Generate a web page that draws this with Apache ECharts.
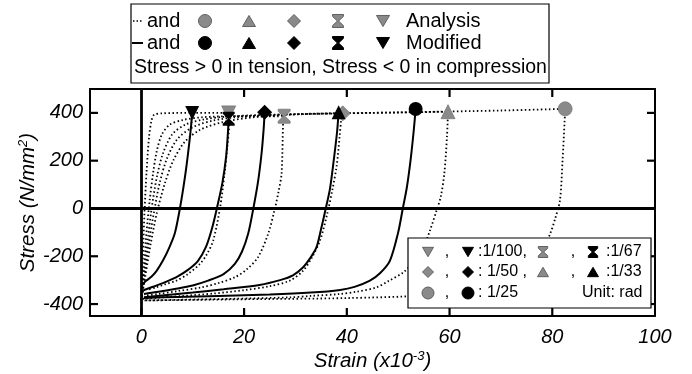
<!DOCTYPE html>
<html><head><meta charset="utf-8">
<script src="https://cdn.jsdelivr.net/npm/echarts@6/dist/echarts.min.js"></script>
<style>html,body{margin:0;padding:0;background:#fff}#c{width:692px;height:374px}</style>
</head><body><div id="c"></div>
<script>
// ---------- axis ranges / ticks ----------
const xMin = -10, xMax = 100;
const yMin = -450, yMax = 500;
const xTickLabels = [0, 20, 40, 60, 80, 100];
const xTicksBottom = [0, 20, 40, 60, 80];
const xTicksTop = [20, 40, 60, 80];
const yTicks = [-400, -200, 0, 200, 400];

// ---------- Modified (solid) unloading curves ----------
const mod100Strain = [9.9, 9.7, 9.4, 8.8, 8.2, 7.5, 6.5, 5.3, 4.2, 3.0, 2.0, 0.8, 0.2];
const mod100Stress = [400, 350, 288, 180, 90, 0, -105, -170, -218, -260, -285, -305, -320];
const mod67Strain = [17.0, 16.8, 16.5, 15.8, 14.8, 13.8, 12.6, 11.0, 9.0, 7.0, 5.0, 3.0, 1.2, 0.2];
const mod67Stress = [375, 300, 217, 110, 10, -80, -160, -220, -258, -285, -305, -322, -336, -345];
const mod50Strain = [24.0, 23.8, 23.4, 22.7, 21.8, 20.8, 19.6, 18.2, 16.0, 13.0, 10.0, 6.5, 3.0, 0.5];
const mod50Stress = [403, 330, 230, 110, 0, -105, -180, -232, -275, -302, -322, -337, -350, -358];
const mod33Strain = [38.4, 38.1, 37.3, 36.7, 35.9, 35.0, 34.1, 32.8, 31.5, 29.5, 27.0, 23.0, 16.0, 10.0, 5.0, 0.5];
const mod33Stress = [403, 320, 175, 80, 0, -85, -162, -210, -246, -280, -300, -320, -338, -352, -362, -372];
const mod25Strain = [53.4, 53.0, 52.4, 51.7, 50.9, 50.0, 48.4, 46.5, 44.5, 41.5, 38.7, 33.0, 25.0, 15.0, 7.0, 0.5];
const mod25Stress = [416, 320, 200, 90, 0, -100, -218, -270, -302, -328, -341, -352, -360, -366, -370, -375];

// ---------- Analysis (dotted) unloading curves ----------
const an100Strain = [17.0, 17.1, 16.7, 16.2, 15.3, 14.0, 12.8, 11.4, 9.0, 6.8, 4.5, 2.9, 1.2];
const an100Stress = [400, 358, 250, 147, 0, -133, -190, -232, -275, -302, -318, -330, -340];
const an67Strain = [27.8, 27.6, 27.3, 26.7, 26.0, 24.7, 22.7, 20.5, 18.2, 15.0, 11.7, 7.0, 3.2, 0.6];
const an67Stress = [386, 358, 147, 70, 0, -105, -204, -255, -288, -312, -330, -346, -358, -365];
const an50Strain = [39.2, 38.9, 38.6, 38.0, 37.2, 36.2, 34.8, 33.2, 31.5, 28.9, 25.0, 20.0, 14.0, 8.0, 3.0, 0.3];
const an50Stress = [398, 370, 300, 175, 80, -21, -133, -205, -260, -302, -325, -342, -356, -366, -374, -378];
const an33Strain = [59.7, 59.5, 59.0, 58.3, 57.5, 56.2, 55.0, 53.2, 51.0, 48.0, 45.8, 42.0, 38.6, 33.0, 28.9, 18.0, 8.0, 0.3];
const an33Stress = [405, 300, 150, 50, -7, -91, -160, -220, -267, -305, -330, -348, -358, -366, -372, -378, -382, -385];
const an25Strain = [82.5, 82.4, 82.0, 81.5, 80.6, 79.6, 78.0, 76.0, 73.0, 69.0, 63.0, 55.0, 40.0, 20.0, 0.0];
const an25Stress = [417, 365, 200, 35, -40, -105, -180, -240, -290, -325, -350, -365, -375, -380, -385];

// ---------- Analysis (dotted) loading curves ----------
const ld100Strain = [0.0, 0.3, 0.6, 1.0, 1.5, 2.0, 2.5, 4.0, 10.0, 17.0];
const ld100Stress = [-380, -200, -20, 150, 300, 370, 392, 398, 400, 400];
const ld67Strain = [0.0, 0.5, 1.0, 1.6, 2.3, 3.0, 4.0, 5.5, 8.0, 12.0, 18.0, 27.8];
const ld67Stress = [-382, -250, -100, 30, 150, 240, 310, 350, 370, 382, 386, 386];
const ld50Strain = [0.0, 0.6, 1.3, 2.0, 3.0, 4.2, 6.0, 8.5, 12.0, 17.0, 25.0, 39.2];
const ld50Stress = [-383, -260, -120, 0, 130, 230, 310, 350, 372, 385, 392, 398];
const ld33Strain = [0.0, 0.7, 1.5, 2.5, 3.6, 5.0, 7.0, 10.0, 14.0, 20.0, 30.0, 45.0, 59.7];
const ld33Stress = [-384, -270, -140, -10, 110, 210, 290, 340, 368, 385, 395, 400, 405];
const ld25Strain = [0.0, 0.8, 1.8, 3.0, 4.5, 6.2, 8.5, 11.5, 16.0, 22.0, 32.0, 50.0, 70.0, 82.5];
const ld25Stress = [-385, -280, -150, -20, 100, 200, 280, 330, 362, 382, 395, 402, 410, 417];

// ---------- peak markers ----------
const amplitudes = ['1/25', '1/33', '1/50', '1/67', '1/100'];
const anPeakStrain = [82.5, 59.7, 39.2, 27.8, 17.0];
const anPeakStress = [417, 405, 398, 386, 400];
const modPeakStrain = [53.4, 38.4, 24.0, 17.0, 9.9];
const modPeakStress = [416, 403, 403, 375, 400];

const FONT = 'Liberation Sans, Arial, sans-serif';
const GRAY = '#8a8a8a';
const HOURGLASS = 'path://M0,0L12,0L12,2L6.7,7L12,12L12,14L0,14L0,12L5.3,7L0,2Z';
const peakSymbols = ['circle', 'triangle', 'diamond', HOURGLASS, 'triangle'];
const peakRotate = [0, 0, 0, 0, 180];
const peakSizes = [14, 14, 15, [12, 14], 14];

// grid geometry (pixels)
const GRID = { left: 90, right: 37, top: 89, bottom: 58 };
const W = 692, H = 374;
const gridW = W - GRID.left - GRID.right, gridH = H - GRID.top - GRID.bottom;
const TICK = 8;
const dxTick = TICK * (xMax - xMin) / gridW;
const dyTick = TICK * (yMax - yMin) / gridH;

function pts(s, t) { return s.map((v, i) => [v, t[i]]); }

const solidCurves = [[mod100Strain, mod100Stress], [mod67Strain, mod67Stress], [mod50Strain, mod50Stress], [mod33Strain, mod33Stress], [mod25Strain, mod25Stress]];
const dottedCurves = [[an100Strain, an100Stress], [an67Strain, an67Stress], [an50Strain, an50Stress], [an33Strain, an33Stress], [an25Strain, an25Stress],
  [ld100Strain, ld100Stress], [ld67Strain, ld67Stress], [ld50Strain, ld50Stress], [ld33Strain, ld33Stress], [ld25Strain, ld25Stress]];

// inward ticks on all four sides, as short line segments in data space
const tickSegs = [];
xTicksBottom.forEach(v => tickSegs.push([[v, yMin], [v, yMin + dyTick]]));
xTicksTop.forEach(v => tickSegs.push([[v, yMax], [v, yMax - dyTick]]));
yTicks.forEach(v => {
  tickSegs.push([[xMin, v], [xMin + dxTick, v]]);
  tickSegs.push([[xMax, v], [xMax - dxTick, v]]);
});

const series = [];
series.push({
  type: 'line', data: [], silent: true, z: 1,
  markLine: {
    silent: true, symbol: 'none', label: { show: false }, animation: false,
    lineStyle: { color: '#000', width: 2.8, type: 'solid' },
    data: [{ xAxis: 0 }, { yAxis: 0 }]
  }
});
tickSegs.forEach(seg => series.push({
  type: 'line', data: seg, silent: true, showSymbol: false, z: 4, clip: false,
  lineStyle: { color: '#000', width: 2.2, type: 'solid' }
}));
dottedCurves.forEach(c => series.push({
  type: 'line', data: pts(c[0], c[1]), showSymbol: false, smooth: 0.3, z: 2,
  lineStyle: { color: '#000', width: 1.8, type: [1.5, 2.5] }
}));
solidCurves.forEach(c => series.push({
  type: 'line', data: pts(c[0], c[1]), showSymbol: false, smooth: 0.3, z: 3,
  lineStyle: { color: '#000', width: 2 }
}));
series.push({
  type: 'scatter', z: 5,
  data: anPeakStrain.map((s, i) => ({
    value: [s, anPeakStress[i]], symbol: peakSymbols[i], symbolRotate: peakRotate[i], symbolSize: peakSizes[i]
  })),
  itemStyle: { color: GRAY, borderColor: '#777', borderWidth: 0.8, opacity: 1 }
});
series.push({
  type: 'scatter', z: 6,
  data: modPeakStrain.map((s, i) => ({
    value: [s, modPeakStress[i]], symbol: peakSymbols[i], symbolRotate: peakRotate[i], symbolSize: peakSizes[i]
  })),
  itemStyle: { color: '#000', opacity: 1 }
});

// ---------- legend graphics ----------
function sym(kind, cx, cy, size, fill, stroke) {
  const h = size / 2;
  const style = { fill: fill, stroke: stroke, lineWidth: 1 };
  if (kind === 'circle') return { type: 'circle', shape: { cx, cy, r: h }, style };
  let p;
  if (kind === 'tri') p = [[cx - h, cy + h * 0.85], [cx + h, cy + h * 0.85], [cx, cy - h * 0.85]];
  if (kind === 'itri') p = [[cx - h, cy - h * 0.85], [cx + h, cy - h * 0.85], [cx, cy + h * 0.85]];
  if (kind === 'dia') p = [[cx, cy - h], [cx + h, cy], [cx, cy + h], [cx - h, cy]];
  if (kind === 'hg') {
    const w = h * 0.85;
    p = [[cx - w, cy - h], [cx + w, cy - h], [cx + w, cy - h + 1.8], [cx + 0.6, cy], [cx + w, cy + h - 1.8], [cx + w, cy + h],
         [cx - w, cy + h], [cx - w, cy + h - 1.8], [cx - 0.6, cy], [cx - w, cy - h + 1.8]];
  }
  return { type: 'polygon', shape: { points: p }, style };
}
function txt(x, y, t, size, align) {
  return { type: 'text', x, y, style: { text: t, font: size + 'px ' + FONT, fill: '#000', align: align || 'left', verticalAlign: 'middle' } };
}
const g = [];
// top legend
g.push({ type: 'rect', shape: { x: 131, y: 4, width: 418, height: 79 }, style: { fill: '#fff', stroke: '#000', lineWidth: 1.2 } });
g.push({ type: 'line', shape: { x1: 133, y1: 21, x2: 143, y2: 21 }, style: { stroke: '#000', lineWidth: 1.5, lineDash: [1.5, 2] } });
g.push({ type: 'line', shape: { x1: 132, y1: 43, x2: 143, y2: 43 }, style: { stroke: '#000', lineWidth: 2 } });
g.push(txt(147, 21, 'and', 20)); g.push(txt(147, 43, 'and', 20));
const kinds = ['circle', 'tri', 'dia', 'hg', 'itri'];
const legX = [205, 249, 294, 338, 383];
kinds.forEach((k, i) => {
  g.push(sym(k, legX[i], 21, 13, GRAY, '#606060'));
  g.push(sym(k, legX[i], 43, 13, '#000', '#000'));
});
g.push(txt(406, 21, 'Analysis', 20)); g.push(txt(406, 43, 'Modified', 20));
g.push(txt(134, 68, 'Stress > 0 in tension, Stress < 0 in compression', 19.5));
// bottom-right legend
g.push({ type: 'rect', shape: { x: 408, y: 238, width: 243, height: 70 }, style: { fill: '#fff', stroke: '#000', lineWidth: 1.2 }, z: 100 });
const rows = [252, 272, 293];
const g2 = [];
g2.push(sym('itri', 428, rows[0], 11, GRAY, '#606060')); g2.push(txt(447, rows[0], ',', 16, 'center'));
g2.push(sym('itri', 468, rows[0], 11, '#000', '#000')); g2.push(txt(478, rows[0], ':1/100,', 16));
g2.push(sym('hg', 543, rows[0], 11, GRAY, '#606060')); g2.push(txt(573, rows[0], ',', 16, 'center'));
g2.push(sym('hg', 593, rows[0], 11, '#000', '#000')); g2.push(txt(606, rows[0], ':1/67', 16));
g2.push(sym('dia', 428, rows[1], 11, GRAY, '#606060')); g2.push(txt(447, rows[1], ',', 16, 'center'));
g2.push(sym('dia', 468, rows[1], 11, '#000', '#000')); g2.push(txt(478, rows[1], ': 1/50 ,', 16));
g2.push(sym('tri', 543, rows[1], 11, GRAY, '#606060')); g2.push(txt(573, rows[1], ',', 16, 'center'));
g2.push(sym('tri', 593, rows[1], 11, '#000', '#000')); g2.push(txt(606, rows[1], ':1/33', 16));
g2.push(sym('circle', 428, rows[2], 12, GRAY, '#606060')); g2.push(txt(447, rows[2], ',', 16, 'center'));
g2.push(sym('circle', 468, rows[2], 12, '#000', '#000')); g2.push(txt(478, rows[2], ': 1/25', 16));
g2.push(txt(582, rows[2], 'Unit: rad', 16));
g2.forEach(e => { e.z = 101; g.push(e); });

const axisLabelStyle = { fontStyle: 'italic', fontSize: 20, color: '#000', fontFamily: FONT };
const frameLine = { show: true, onZero: false, lineStyle: { color: '#000', width: 2 } };
const nameStyle = { fontStyle: 'italic', fontSize: 20.5, color: '#000', fontFamily: FONT,
  rich: { sup: { fontStyle: 'italic', fontSize: 13, fontFamily: FONT, color: '#000', verticalAlign: 'top', padding: [0, 0, 10, 0] } } };

const option = {
  animation: false,
  backgroundColor: '#fff',
  grid: Object.assign({ show: false, containLabel: false, outerBoundsMode: 'none' }, GRID),
  xAxis: [{
    type: 'value', min: xMin, max: xMax, position: 'bottom',
    axisLine: frameLine, splitLine: { show: false }, axisTick: { show: false },
    axisLabel: Object.assign({}, axisLabelStyle, { customValues: xTickLabels, margin: 11 }),
    name: 'Strain (x10{sup|-3})', nameLocation: 'middle', nameGap: 34, nameMoveOverlap: false, nameTextStyle: nameStyle
  }, {
    type: 'value', min: xMin, max: xMax, position: 'top',
    axisLine: frameLine, splitLine: { show: false }, axisTick: { show: false }, axisLabel: { show: false }
  }],
  yAxis: [{
    type: 'value', min: yMin, max: yMax, position: 'left',
    axisLine: frameLine, splitLine: { show: false }, axisTick: { show: false },
    axisLabel: Object.assign({}, axisLabelStyle, { customValues: yTicks, margin: 7 }),
    name: 'Stress (N/mm{sup|2})', nameLocation: 'middle', nameGap: 50, nameMoveOverlap: false, nameTextStyle: nameStyle
  }, {
    type: 'value', min: yMin, max: yMax, position: 'right',
    axisLine: frameLine, splitLine: { show: false }, axisTick: { show: false }, axisLabel: { show: false }
  }],
  series: series,
  graphic: { elements: g }
};
const chart = echarts.init(document.getElementById('c'));
chart.setOption(option);
</script></body></html>
